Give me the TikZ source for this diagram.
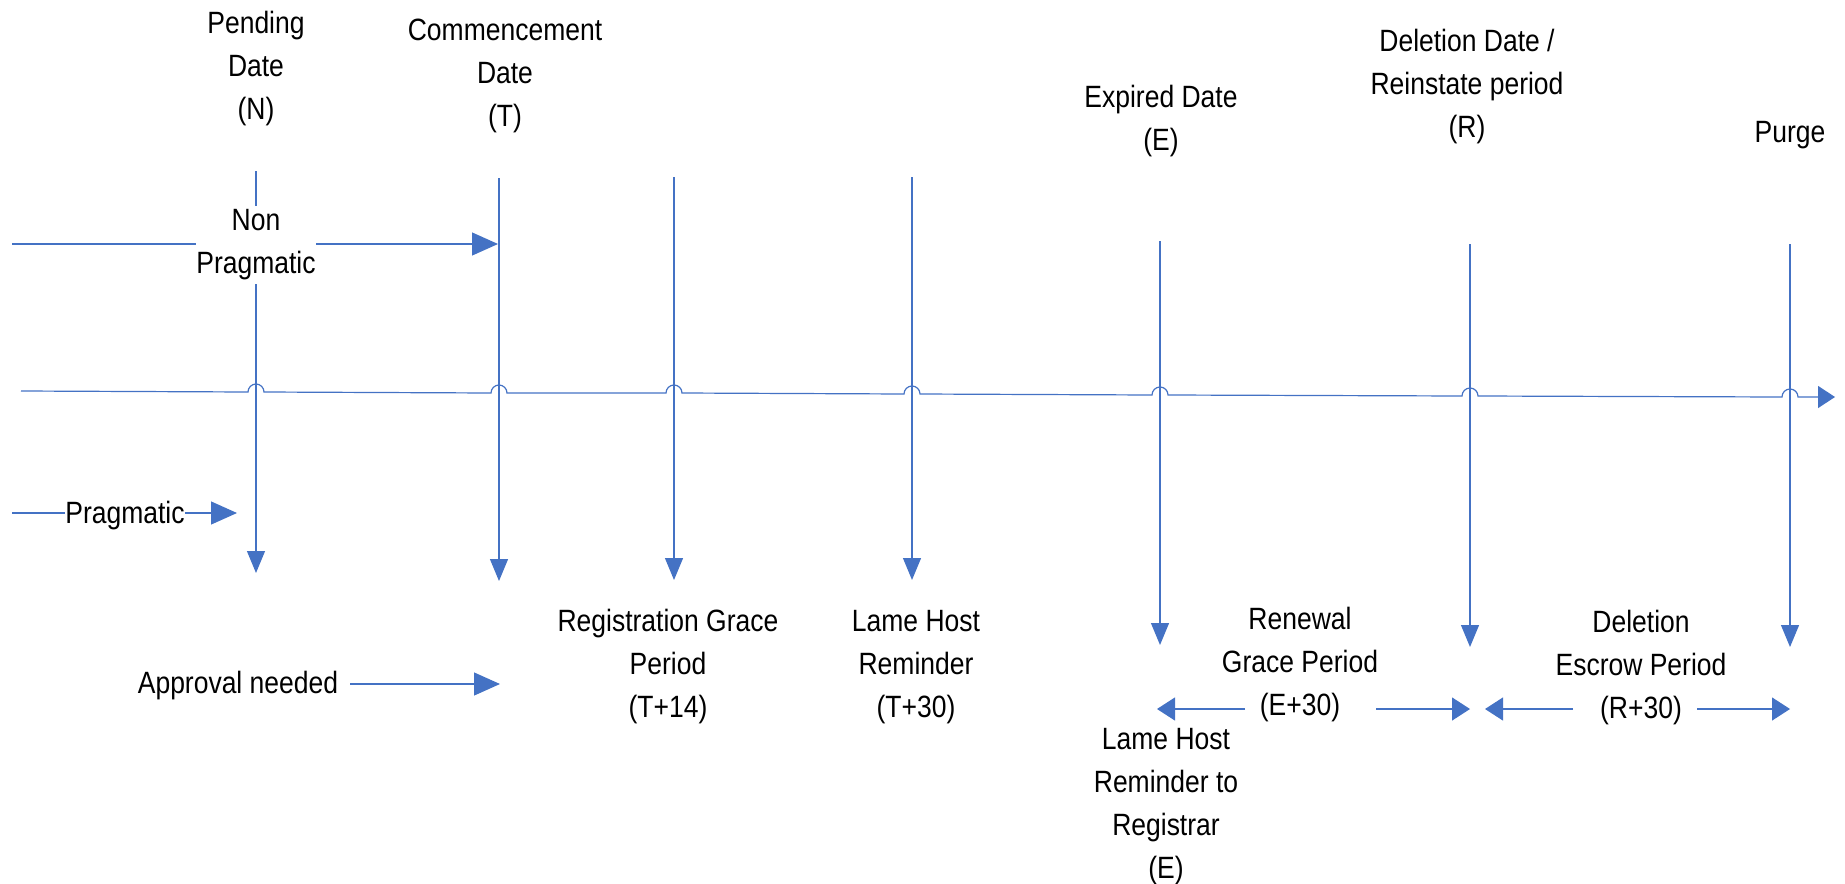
\documentclass[tikz,border=0pt]{standalone}
\usepackage{fontspec}
\setmainfont{Liberation Sans}[FakeStretch=0.86]
\usetikzlibrary{arrows.meta}
\definecolor{lineblue}{HTML}{4472C4}

\begin{document}
\begin{tikzpicture}[x=0.5pt,y=-0.5pt,
        tl/.style={draw=lineblue,line width=0.6pt},
        bigarr/.style={tl,-{Triangle[length=13pt,width=11.5pt]}},
        vertarr/.style={tl,-{Triangle[length=11pt,width=9pt]}},
        smallarr/.style={tl,-{Triangle[length=9pt,width=11.5pt]}},
        lbl/.style={align=center,inner sep=0pt,font=\fontsize{15.4}{21.5}\selectfont},
        gaplbl/.style={lbl,fill=white,inner ysep=2pt}]
        \useasboundingbox (0,0) rectangle (1845,883);
        % time line with hops
        \coordinate (tl start) at (21,391);
        \coordinate (tl end) at (1835,397);
        \draw[tl,-{Triangle[length=8.5pt,width=11pt]}] (tl start)
            \foreach \x/\y in {256/392,499/393,674/393,912/394,1160/395,1470/396,1790/397} {
                -- (\x-8,\y) arc[start angle=180,end angle=360,radius=8]
            } -- (tl end);
        % dates
        \foreach \n/\x/\yt/\yb in {pend/256/171/573,comm/499/178/581,rgp/674/177/580,lhr/912/177/580,
                exp/1160/241/645,del/1470/244/647,purge/1790/244/647} {
            \coordinate (\n top) at (\x,\yt);
            \coordinate (\n tip) at (\x,\yb);
            \draw[vertarr] (\n top) -- (\n tip);
        }
        % entry paths
        \coordinate (np start) at (12,244);
        \coordinate (np end) at (498,244);
        \draw[bigarr] (np start) -- (np end);
        \coordinate (pr start) at (12,513);
        \coordinate (pr end) at (237,513);
        \draw[bigarr] (pr start) -- (pr end);
        \coordinate (ap start) at (350,684);
        \coordinate (ap end) at (500,684);
        \draw[bigarr] (ap start) -- (ap end);
        % periods
        \foreach \n/\la/\lb/\ra/\rb in {rnw/1245/1157/1376/1470,des/1573/1485/1697/1790} {
            \coordinate (\n l from) at (\la,709);
            \coordinate (\n l to) at (\lb,709);
            \coordinate (\n r from) at (\ra,709);
            \coordinate (\n r to) at (\rb,709);
            \draw[smallarr] (\n l from) -- (\n l to);
            \draw[smallarr] (\n r from) -- (\n r to);
        }
        % labels
        \node[lbl] (pend lbl) at (256,69) {Pending\\Date\\(N)};
        \node[lbl] (comm lbl) at (505,76) {Commencement\\Date\\(T)};
        \node[lbl] (exp lbl) at (1161,121) {Expired Date\\(E)};
        \node[lbl] (del lbl) at (1467,87) {Deletion Date /\\Reinstate period\\(R)};
        \node[lbl] (purge lbl) at (1790,135) {Purge};
        \node[gaplbl] (np lbl) at (256,245) {Non\\Pragmatic};
        \node[gaplbl] (pr lbl) at (125,516) {Pragmatic};
        \node[lbl] (ap lbl) at (238,686) {Approval needed};
        \node[lbl] (rgp lbl) at (668,667) {Registration Grace\\Period\\(T+14)};
        \node[lbl] (lhr lbl) at (916,667) {Lame Host\\Reminder\\(T+30)};
        \node[lbl] (rnw lbl) at (1300,665) {Renewal\\Grace Period\\(E+30)};
        \node[lbl] (des lbl) at (1641,668) {Deletion\\Escrow Period\\(R+30)};
        \node[lbl] (lhrr lbl) at (1166,807) {Lame Host\\Reminder to\\Registrar\\(E)};
\end{tikzpicture}
\end{document}
